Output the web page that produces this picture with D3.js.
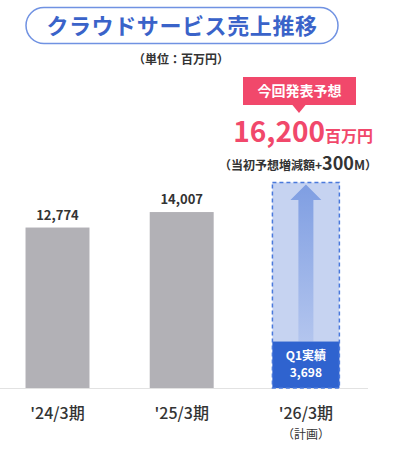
<!DOCTYPE html>
<html>
<head>
<meta charset="utf-8">
<script src="https://cdn.jsdelivr.net/npm/d3@7"></script>
<style>
  body { margin: 0; background: #fff; }
  svg { display: block; font-family: "Noto Sans CJK JP", "Noto Sans", sans-serif; }
</style>
</head>
<body>
<div class="chart"></div>
<script>
var width = 396;
var height = 452;

// data
var periods = ["'24/3期", "'25/3期", "'26/3期"];
var sales = [12774, 14007, 16200];
var q1Actual = 3698;
var planDiff = 300;
var titleText = "クラウドサービス売上推移";
var unitText = "（単位：百万円）";

var svg = d3.select(".chart").append("svg")
    .attr("width", width)
    .attr("height", height);

var defs = svg.append("defs");
var grad = defs.append("linearGradient")
    .attr("id", "arrowGrad")
    .attr("x1", 0).attr("y1", 0).attr("x2", 0).attr("y2", 1);
grad.append("stop").attr("offset", "0%").attr("stop-color", "#7f9ee2");
grad.append("stop").attr("offset", "100%").attr("stop-color", "#b3c5ee");

var baseY = 388;

var x = d3.scaleBand()
    .domain(periods)
    .range([-4.6, 368])
    .paddingInner(0.485)
    .paddingOuter(0.2425);

var y = d3.scaleLinear()
    .domain([0, 16200])
    .range([baseY, 184.5]);

// title pill
svg.append("rect")
    .attr("x", 26).attr("y", 7.5)
    .attr("width", 312).attr("height", 36)
    .attr("rx", 18)
    .attr("fill", "#fff")
    .attr("stroke", "#7092e2")
    .attr("stroke-width", 1.5);
svg.append("text")
    .attr("x", 182).attr("y", 26)
    .attr("dy", "0.35em")
    .attr("text-anchor", "middle")
    .attr("fill", "#3a63c9")
    .attr("font-size", 22)
    .attr("font-weight", "bold")
    .attr("letter-spacing", 0.6)
    .text(titleText);

svg.append("text")
    .attr("x", 181).attr("y", 60)
    .attr("dy", "0.35em")
    .attr("text-anchor", "middle")
    .attr("fill", "#333")
    .attr("font-size", 12)
    .attr("font-weight", "bold")
    .text(unitText);

// baseline
svg.append("line")
    .attr("x1", 0).attr("x2", 368)
    .attr("y1", baseY + 0.5).attr("y2", baseY + 0.5)
    .attr("stroke", "#e2e2e2");

// actual bars
var actual = periods.slice(0, 2).map(function(p, i) { return {p: p, v: sales[i]}; });
var plan = {p: periods[2], v: sales[2]};

svg.append("g")
    .selectAll("rect")
    .data(actual)
    .enter().append("rect")
      .attr("x", function(d) { return x(d.p); })
      .attr("y", function(d) { return y(d.v); })
      .attr("width", x.bandwidth())
      .attr("height", function(d) { return baseY - y(d.v); })
      .attr("fill", "#b2b1b6");

svg.append("g")
    .selectAll("text")
    .data(actual)
    .enter().append("text")
      .attr("x", function(d) { return x(d.p) + x.bandwidth() / 2; })
      .attr("y", function(d) { return y(d.v) - 8; })
      .attr("text-anchor", "middle")
      .attr("fill", "#333")
      .attr("font-size", 13)
      .attr("font-weight", "bold")
      .text(function(d) { return d3.format(",")(d.v); });

// plan bar
var px = x(plan.p) - 1.5;
var pw = x.bandwidth() + 3;
var pcx = x(plan.p) + x.bandwidth() / 2;

svg.append("rect")
    .attr("x", px).attr("y", y(plan.v) - 2)
    .attr("width", pw).attr("height", baseY - y(plan.v) + 2)
    .attr("fill", "#c6d3f1");

// arrow
var headTop = y(plan.v);
var headBase = headTop + 15.5;
var shaftBottom = y(q1Actual);
svg.append("path")
    .attr("d", "M" + (pcx - 7.5) + "," + shaftBottom +
               "L" + (pcx - 7.5) + "," + headBase +
               "L" + (pcx - 15.5) + "," + headBase +
               "L" + pcx + "," + headTop +
               "L" + (pcx + 15.5) + "," + headBase +
               "L" + (pcx + 7.5) + "," + headBase +
               "L" + (pcx + 7.5) + "," + shaftBottom + "Z")
    .attr("fill", "url(#arrowGrad)");

// Q1 block
svg.append("rect")
    .attr("x", px).attr("y", y(q1Actual))
    .attr("width", pw).attr("height", baseY - y(q1Actual))
    .attr("fill", "#2f63cf");

svg.append("rect")
    .attr("x", px).attr("y", y(plan.v) - 2)
    .attr("width", pw).attr("height", baseY - y(plan.v) + 2)
    .attr("fill", "none")
    .attr("stroke", "#4a79dc")
    .attr("stroke-width", 1.5)
    .attr("stroke-dasharray", "4,3");

svg.append("text")
    .attr("x", pcx).attr("y", 356)
    .attr("dy", "0.35em")
    .attr("text-anchor", "middle")
    .attr("fill", "#fff")
    .attr("font-size", 12)
    .attr("font-weight", "bold")
    .text("Q1実績");
svg.append("text")
    .attr("x", pcx).attr("y", 373)
    .attr("dy", "0.35em")
    .attr("text-anchor", "middle")
    .attr("fill", "#fff")
    .attr("font-size", 12)
    .attr("font-weight", "bold")
    .text(d3.format(",")(q1Actual));

// callout
var pink = "#f1486b";
svg.append("rect")
    .attr("x", 243).attr("y", 77)
    .attr("width", 113).attr("height", 28)
    .attr("fill", pink);
svg.append("path")
    .attr("d", "M292,104.5L306,104.5L299,113Z")
    .attr("fill", pink);
svg.append("text")
    .attr("x", 299.5).attr("y", 91)
    .attr("dy", "0.35em")
    .attr("text-anchor", "middle")
    .attr("fill", "#fff")
    .attr("font-size", 14)
    .attr("font-weight", "bold")
    .text("今回発表予想");

var big = svg.append("text")
    .attr("x", 373).attr("y", 142)
    .attr("text-anchor", "end")
    .attr("fill", pink)
    .attr("font-weight", "bold");
big.append("tspan").attr("font-size", 28).text(d3.format(",")(plan.v));
big.append("tspan").attr("font-size", 16).text("百万円");

var sub = svg.append("text")
    .attr("x", 377).attr("y", 170)
    .attr("text-anchor", "end")
    .attr("fill", "#333")
    .attr("font-weight", "bold");
sub.append("tspan").attr("font-size", 12).text("（当初予想増減額+");
sub.append("tspan").attr("font-size", 18).text(planDiff);
sub.append("tspan").attr("font-size", 13).text("M");
sub.append("tspan").attr("font-size", 12).text("）");

// x axis
var xAxis = svg.append("g")
    .attr("transform", "translate(0," + baseY + ")")
    .call(d3.axisBottom(x).tickSize(0).tickPadding(20));
xAxis.select(".domain").remove();
xAxis.selectAll("text")
    .attr("fill", "#333")
    .attr("font-size", 16)
    .attr("font-weight", 500)
    .attr("font-family", "'Noto Sans CJK JP', sans-serif");

svg.append("text")
    .attr("x", pcx).attr("y", 439)
    .attr("text-anchor", "middle")
    .attr("fill", "#333")
    .attr("font-size", 12)
    .text("（計画）");
</script>
</body>
</html>
